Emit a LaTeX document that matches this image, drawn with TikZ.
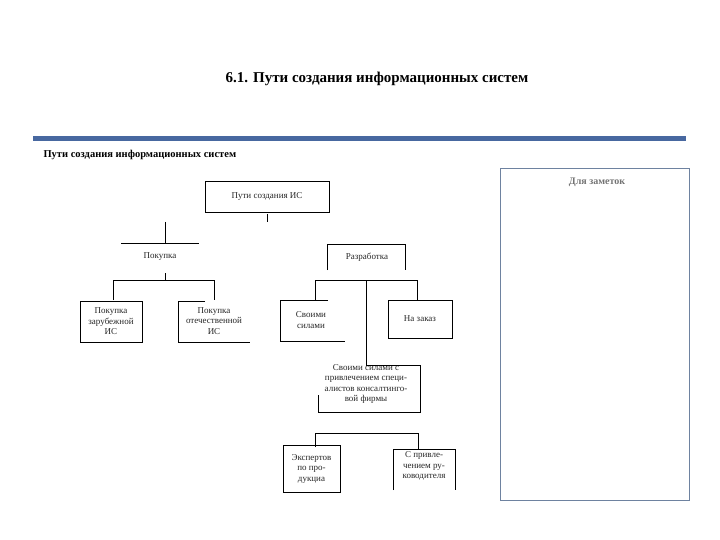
\documentclass[tikz,border=0pt]{standalone}
\usepackage{fontspec}
\setmainfont{Liberation Serif}
\begin{document}
\begin{tikzpicture}[x=1pt,y=-1pt,
  ln/.style={draw=black,line width=0.9pt},
  tx/.style={font=\fontsize{9}{10.5}\selectfont,align=center,inner sep=0pt,text=black!85}]
\useasboundingbox (0,0) rectangle (720,540);
\node[font=\fontsize{15}{18}\selectfont\bfseries] (title) at (377,79) {6.1. Пути создания информационных систем};
\coordinate (b1) at (33,139); \coordinate (b2) at (686,139);
\draw[line width=5pt,color={rgb,255:red,72;green,104;blue,160}] (b1) -- (b2);
\node[anchor=west,font=\fontsize{10.5}{12}\selectfont\bfseries] (sub) at (40,155) {Пути создания информационных систем};
\node[draw={rgb,255:red,110;green,130;blue,160},line width=0.8pt,minimum width=189pt,minimum height=332pt,anchor=north west] (notes) at (500,168) {};
\node[font=\fontsize{10}{12}\selectfont\bfseries,text=black!55] (nt) at (597,182) {Для заметок};
% top
\node[ln,minimum width=124pt,minimum height=31pt,tx] (top) at (267,196.5) {Пути создания ИС};
\coordinate (t1) at (267,214); \coordinate (t2) at (267,222);
\draw[ln] (t1) -- (t2);
% Покупка
\coordinate (p1) at (165,222); \coordinate (p2) at (165,243);
\coordinate (p3) at (121,243); \coordinate (p4) at (199,243);
\draw[ln] (p1) -- (p2) (p3) -- (p4);
\node[tx] (buy) at (160,257) {Покупка};
\coordinate (p5) at (165,273); \coordinate (p6) at (165,280);
\draw[ln] (p5) -- (p6);
\coordinate (h1) at (113,300); \coordinate (h2) at (113,280); \coordinate (h3) at (214,280); \coordinate (h4) at (214,300);
\draw[ln] (h1) -- (h2) -- (h3) -- (h4);
\node[ln,minimum width=62pt,minimum height=41pt,tx] (zar) at (111,321.5) {Покупка\\зарубежной\\ИС};
\node[tx] (ote) at (214,321) {Покупка\\отечественной\\ИС};
\coordinate (o1) at (205,301); \coordinate (o2) at (178,301); \coordinate (o3) at (178,342); \coordinate (o4) at (250,342);
\draw[ln] (o1) -- (o2) -- (o3) -- (o4);
% Разработка
\coordinate (r1) at (327,270); \coordinate (r2) at (327,244); \coordinate (r3) at (405,244); \coordinate (r4) at (405,270);
\draw[ln] (r1) -- (r2) -- (r3) -- (r4);
\node[tx] (dev) at (367,257) {Разработка};
\coordinate (k1) at (315,300); \coordinate (k2) at (315,280); \coordinate (k3) at (417,280); \coordinate (k4) at (417,300);
\draw[ln] (k1) -- (k2) -- (k3) -- (k4);
\coordinate (v1) at (366,280); \coordinate (v2) at (366,365);
\draw[line width=0.6pt] (v1) -- (v2);
\node[tx] (own) at (311,320) {Своими\\силами};
\coordinate (s1) at (328,300); \coordinate (s2) at (280,300); \coordinate (s3) at (280,341); \coordinate (s4) at (345,341);
\draw[ln] (s1) -- (s2) -- (s3) -- (s4);
\node[ln,minimum width=64pt,minimum height=38pt,tx] (ord) at (420,319) {На заказ};
\node[tx] (cons) at (366,384) {Своими силами с\\привлечением специ-\\алистов консалтинго-\\вой фирмы};
\coordinate (c1) at (366,365); \coordinate (c2) at (420,365); \coordinate (c3) at (420,412); \coordinate (c4) at (318,412); \coordinate (c5) at (318,395);
\draw[ln] (c1) -- (c2) -- (c3) -- (c4) -- (c5);
\coordinate (l1) at (315,447); \coordinate (l2) at (315,433); \coordinate (l3) at (418,433); \coordinate (l4) at (418,449);
\draw[ln] (l1) -- (l2) -- (l3) -- (l4);
\node[ln,minimum width=57pt,minimum height=47pt,tx] (exp) at (311.5,468.5) {Экспертов\\по про-\\дукциа};
\node[tx] (ruk) at (424,466) {С привле-\\чением ру-\\ководителя};
\coordinate (e1) at (393,490); \coordinate (e2) at (393,449); \coordinate (e3) at (455,449); \coordinate (e4) at (455,490);
\draw[ln] (e1) -- (e2) -- (e3) -- (e4);
\end{tikzpicture}
\end{document}
